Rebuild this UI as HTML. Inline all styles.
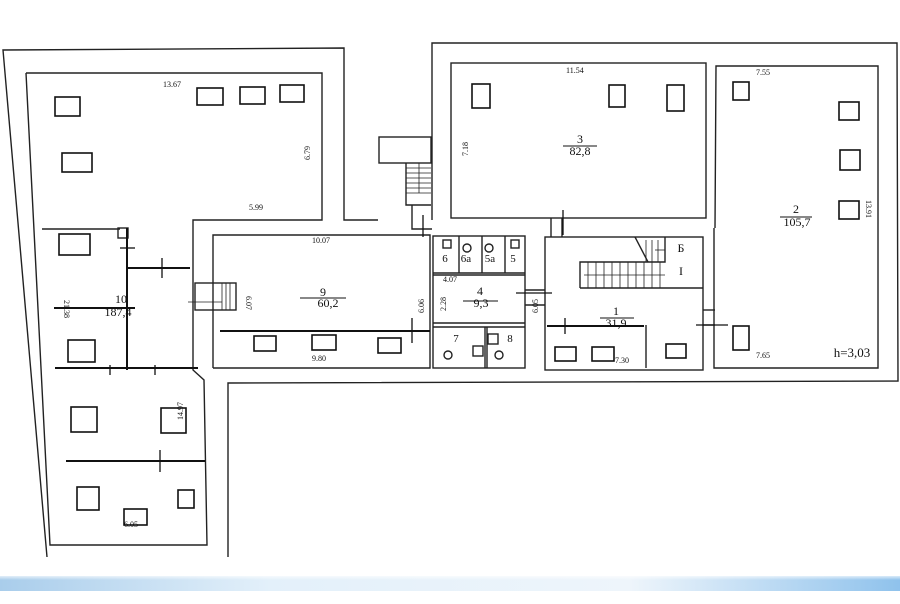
<!DOCTYPE html>
<html><head><meta charset="utf-8"><style>
html,body{margin:0;padding:0;background:#fff;}
svg{display:block;}
text{font-family:"Liberation Serif",serif;fill:#111;}
</style></head><body>
<svg width="900" height="604" viewBox="0 0 900 604" xmlns="http://www.w3.org/2000/svg">
<defs>
<linearGradient id="bg" x1="0" x2="1" y1="0" y2="0">
<stop offset="0" stop-color="#a9cdeb"/><stop offset="0.3" stop-color="#e3f0fa"/>
<stop offset="0.7" stop-color="#eef5fb"/><stop offset="1" stop-color="#8fc2ec"/>
</linearGradient>
<linearGradient id="bv" x1="0" x2="0" y1="0" y2="1">
<stop offset="0" stop-color="#fff" stop-opacity="1"/><stop offset="1" stop-color="#fff" stop-opacity="0"/>
</linearGradient>
</defs>
<rect x="0" y="576" width="900" height="15" fill="url(#bg)"/>
<rect x="0" y="574" width="900" height="6" fill="url(#bv)"/>
<g fill="none" stroke="#222" stroke-width="1.4">
<polyline points="47,557 3,50 344,48 344,220 378,220"/>
<polyline points="432,220 432,43 897,43 898,381 228,383 228,557"/>
<polyline points="26,73 322,73 322,220 193,220 193,370 204,380 207,545 50,545 26,73"/>
<line x1="42" y1="229" x2="120" y2="229"/>
<rect x="118" y="228" width="10" height="10"/>
<rect x="379" y="137" width="52" height="26"/>
<polyline points="406,163 406,205 431,205"/>
<g stroke-width="0.8">
<line x1="406" y1="168" x2="431" y2="168"/><line x1="406" y1="173" x2="431" y2="173"/>
<line x1="406" y1="178" x2="431" y2="178"/><line x1="406" y1="183" x2="431" y2="183"/>
<line x1="406" y1="188" x2="431" y2="188"/><line x1="406" y1="193" x2="431" y2="193"/>
<line x1="419" y1="163" x2="419" y2="193"/>
</g>
<polyline points="412,205 412,229 432,229"/>
<polyline points="213,368 213,235 430,235 430,368 213,368"/>
<rect x="195" y="283" width="41" height="27"/>
<g stroke-width="0.8">
<line x1="222" y1="283" x2="222" y2="310"/><line x1="226" y1="283" x2="226" y2="310"/>
<line x1="230" y1="283" x2="230" y2="310"/>
<line x1="188" y1="302" x2="222" y2="302"/>
</g>
<rect x="433" y="236" width="92" height="132"/>
<line x1="433" y1="273" x2="525" y2="273"/>
<line x1="433" y1="275" x2="525" y2="275"/>
<line x1="433" y1="323" x2="525" y2="323"/>
<line x1="433" y1="327" x2="525" y2="327"/>
<line x1="459" y1="236" x2="459" y2="273"/>
<line x1="482" y1="236" x2="482" y2="273"/>
<line x1="505" y1="236" x2="505" y2="273"/>
<line x1="485" y1="327" x2="485" y2="368"/>
<line x1="487" y1="327" x2="487" y2="368"/>
<rect x="443" y="240" width="8" height="8"/><rect x="511" y="240" width="8" height="8"/>
<circle cx="467" cy="248" r="4"/><circle cx="489" cy="248" r="4"/>
<circle cx="448" cy="355" r="4"/><circle cx="499" cy="355" r="4"/>
<rect x="488" y="334" width="10" height="10"/><rect x="473" y="346" width="10" height="10"/>
<rect x="451" y="63" width="255" height="155"/>
<line x1="551" y1="218" x2="551" y2="237"/><line x1="562" y1="218" x2="562" y2="237"/>
<rect x="545" y="237" width="158" height="133"/>
<line x1="525" y1="290" x2="545" y2="290"/><line x1="525" y1="305" x2="545" y2="305"/>
<polyline points="580,288 580,262 665,262 665,237"/>
<line x1="580" y1="288" x2="703" y2="288"/>
<line x1="635" y1="237" x2="648" y2="262"/>
<g stroke-width="0.8">
<line x1="588" y1="262" x2="588" y2="288"/><line x1="596" y1="262" x2="596" y2="288"/>
<line x1="604" y1="262" x2="604" y2="288"/><line x1="612" y1="262" x2="612" y2="288"/>
<line x1="620" y1="262" x2="620" y2="288"/><line x1="628" y1="262" x2="628" y2="288"/>
<line x1="636" y1="262" x2="636" y2="288"/><line x1="644" y1="262" x2="644" y2="288"/>
<line x1="652" y1="262" x2="652" y2="288"/><line x1="660" y1="262" x2="660" y2="288"/>
<line x1="646" y1="240" x2="646" y2="262"/><line x1="652" y1="240" x2="652" y2="262"/>
<line x1="658" y1="240" x2="658" y2="262"/>
<line x1="584" y1="275" x2="665" y2="275"/><line x1="655" y1="250" x2="665" y2="250"/>
</g>
<line x1="646" y1="325" x2="646" y2="368"/>
<line x1="703" y1="310" x2="715" y2="310"/><line x1="703" y1="325" x2="715" y2="325"/>
<polyline points="715,228 716,66 878,66 878,368 714,368 714,228"/>
</g>
<g fill="none" stroke="#111" stroke-width="1.6">
<rect x="55" y="97" width="25" height="19"/><rect x="62" y="153" width="30" height="19"/>
<rect x="197" y="88" width="26" height="17"/><rect x="240" y="87" width="25" height="17"/>
<rect x="280" y="85" width="24" height="17"/>
<rect x="59" y="234" width="31" height="21"/><rect x="68" y="340" width="27" height="22"/>
<rect x="71" y="407" width="26" height="25"/><rect x="161" y="408" width="25" height="25"/>
<rect x="77" y="487" width="22" height="23"/><rect x="178" y="490" width="16" height="18"/>
<rect x="124" y="509" width="23" height="16"/>
<rect x="254" y="336" width="22" height="15"/><rect x="312" y="335" width="24" height="15"/>
<rect x="378" y="338" width="23" height="15"/>
<rect x="472" y="84" width="18" height="24"/><rect x="609" y="85" width="16" height="22"/>
<rect x="667" y="85" width="17" height="26"/>
<rect x="733" y="82" width="16" height="18"/><rect x="839" y="102" width="20" height="18"/>
<rect x="840" y="150" width="20" height="20"/><rect x="839" y="201" width="20" height="18"/>
<rect x="733" y="326" width="16" height="24"/>
<rect x="555" y="347" width="21" height="14"/><rect x="592" y="347" width="22" height="14"/>
<rect x="666" y="344" width="20" height="14"/>
</g>
<g stroke="#111" stroke-width="2" fill="none">
<line x1="127" y1="228" x2="127" y2="370"/>
<line x1="127" y1="268" x2="190" y2="268"/>
<line x1="54" y1="308" x2="135" y2="308"/>
<line x1="55" y1="368" x2="198" y2="368"/>
<line x1="66" y1="461" x2="205" y2="461"/>
<line x1="220" y1="331" x2="430" y2="331"/>
<line x1="547" y1="326" x2="644" y2="326"/>
</g>
<g stroke="#111" stroke-width="1.3">
<line x1="120" y1="248" x2="135" y2="248"/>
<line x1="162" y1="258" x2="162" y2="278"/>
<line x1="110" y1="365" x2="110" y2="375"/><line x1="155" y1="365" x2="155" y2="375"/>
<line x1="160" y1="450" x2="160" y2="472"/>
<line x1="412" y1="318" x2="412" y2="343"/>
<line x1="565" y1="318" x2="565" y2="334"/>
<line x1="696" y1="325" x2="728" y2="325"/>
<line x1="423" y1="215" x2="423" y2="237"/>
<line x1="563" y1="210" x2="563" y2="235"/>
<line x1="516" y1="293" x2="552" y2="293"/>
</g>
<g font-size="8">
<text x="163" y="87">13.67</text>
<text x="249" y="210">5.99</text>
<text x="312" y="243">10.07</text>
<text x="312" y="361">9.80</text>
<text x="443" y="282">4.07</text>
<text x="566" y="73">11.54</text>
<text x="756" y="75">7.55</text>
<text x="756" y="358">7.65</text>
<text x="615" y="363">7.30</text>
<text x="124" y="527">6.05</text>
<text transform="translate(310,150) rotate(-90)" x="-10" y="0">6.79</text>
<text transform="translate(246,306) rotate(90)" x="-10" y="0">6.07</text>
<text transform="translate(424,303) rotate(-90)" x="-10" y="0">6.06</text>
<text transform="translate(446,301) rotate(-90)" x="-10" y="0">2.28</text>
<text transform="translate(538,303) rotate(-90)" x="-10" y="0">6.05</text>
<text transform="translate(468,146) rotate(-90)" x="-10" y="0">7.18</text>
<text transform="translate(866,210) rotate(90)" x="-10" y="0">13.91</text>
<text transform="translate(64,310) rotate(90)" x="-10" y="0">21.38</text>
<text transform="translate(183,410) rotate(-90)" x="-10" y="0">14.97</text>
</g>
<g font-size="12" text-anchor="middle">
<text x="121" y="303">10</text><text x="118" y="316">187,4</text>
<text x="323" y="296">9</text><text x="328" y="307">60,2</text>
<text x="480" y="295">4</text><text x="481" y="307">9,3</text>
<text x="580" y="143">3</text><text x="580" y="155">82,8</text>
<text x="796" y="213">2</text><text x="797" y="226">105,7</text>
<text x="616" y="315">1</text><text x="616" y="327">31,9</text>
<text x="445" y="262" font-size="11">6</text><text x="466" y="262" font-size="11">6a</text>
<text x="490" y="262" font-size="11">5a</text><text x="513" y="262" font-size="11">5</text>
<text x="456" y="342" font-size="11">7</text><text x="510" y="342" font-size="11">8</text>
<text x="681" y="252">Б</text><text x="681" y="275">I</text>
<text x="852" y="357" font-size="13">h=3,03</text>
</g>
<g stroke="#111" stroke-width="1">
<line x1="300" y1="298" x2="346" y2="298"/><line x1="463" y1="301" x2="498" y2="301"/>
<line x1="563" y1="146" x2="597" y2="146"/><line x1="780" y1="217" x2="812" y2="217"/>
<line x1="600" y1="318" x2="634" y2="318"/>
</g>
</svg>
</body></html>
